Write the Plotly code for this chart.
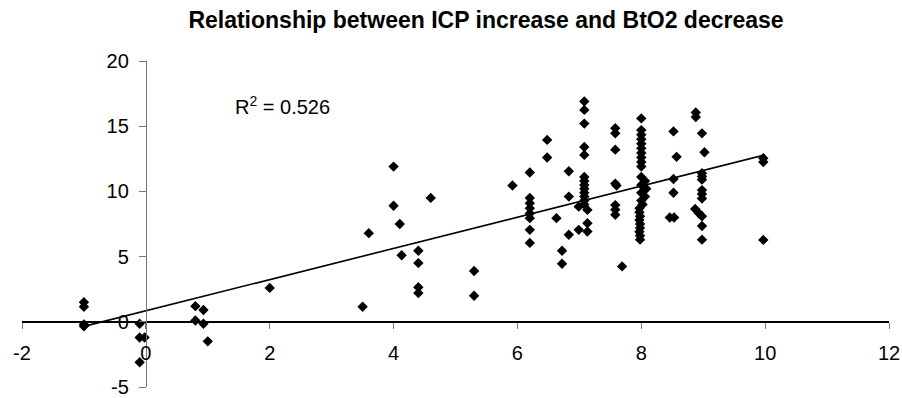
import plotly.graph_objects as go

# ICP increase (x) and BtO2 decrease (y)
icp_increase = [
    -1, -1, -1, -1,
    -0.1, -0.1, -0.02, -0.1,
    0.8, 0.93, 0.8, 0.93, 1.0,
    2.0,
    3.5, 3.6,
    4.0, 4.0, 4.1, 4.13, 4.4, 4.4, 4.4, 4.4,
    4.6,
    5.3, 5.3,
    5.92,
    6.2, 6.2, 6.2, 6.2, 6.2, 6.2, 6.2, 6.2,
    6.48, 6.48,
    6.63,
    6.72, 6.72,
    6.83, 6.83, 6.83,
    6.99, 6.99, 7.13, 7.13, 7.13,
    7.08, 7.08, 7.08, 7.08, 7.08, 7.08, 7.08, 7.08, 7.08, 7.08, 7.08, 7.08, 7.08,
    7.58, 7.58, 7.58, 7.58, 7.6, 7.58, 7.58, 7.58,
    7.69,
    8.0, 8.0, 8.0, 8.0, 8.0, 8.0, 8.0, 8.0, 8.0, 8.0,
    8.0, 8.06, 8.0, 8.08, 8.0, 8.06, 8.0, 8.02,
    7.97, 7.97, 7.98, 7.97, 7.98, 7.98, 7.97, 7.98, 7.98,
    8.52, 8.57, 8.52, 8.52, 8.46, 8.53,
    8.88, 8.88,
    8.98, 9.02, 8.98, 8.98, 8.98, 8.98, 8.98, 8.98, 8.87, 8.93, 8.98, 8.98, 8.98,
    9.97, 9.97, 9.97,
]
bto2_decrease = [
    1.5, 1.15, -0.2, -0.35,
    -0.15, -1.2, -1.2, -3.1,
    1.2, 0.9, 0.1, -0.15, -1.5,
    2.6,
    1.15, 6.8,
    11.9, 8.9, 7.5, 5.1, 5.45, 4.5, 2.65, 2.2,
    9.5,
    3.9, 2.0,
    10.45,
    11.45, 9.5, 9.1, 8.7, 8.3, 7.95, 7.05, 6.05,
    13.95, 12.6,
    7.95,
    5.45, 4.45,
    11.55, 9.6, 6.67,
    8.83, 7.05, 8.58, 7.56, 6.92,
    16.9, 16.25, 15.2, 13.4, 12.8, 11.1, 10.8, 10.5, 10.2, 9.9, 9.6, 9.3, 9.0,
    14.85, 14.45, 13.2, 10.6, 10.45, 8.95, 8.6, 8.2,
    4.25,
    15.6, 14.7, 14.35, 14.0, 13.65, 13.3, 12.95, 12.6, 12.25, 11.9,
    11.1, 10.8, 10.5, 10.2, 9.9, 9.6, 9.3, 9.0,
    8.7, 8.4, 8.1, 7.8, 7.5, 7.2, 6.9, 6.6, 6.3,
    14.6, 12.65, 10.95, 9.9, 8.0, 8.0,
    16.05, 15.7,
    14.45, 13.0, 11.4, 11.15, 10.9, 10.1, 9.8, 9.45, 8.65, 8.33, 8.1, 7.35, 6.3,
    12.55, 12.25, 6.28,
]

# Linear trend line end points
trend_x = [-1, 10]
trend_y = [-0.35, 12.8]

x_ticks = [-2, 0, 2, 4, 6, 8, 10, 12]
y_ticks = [-5, 0, 5, 10, 15, 20]

title_text = "<b>Relationship between ICP increase and BtO2 decrease</b>"
r2_text = "R<sup>2</sup> = 0.526"

FONT = "Arial, 'Liberation Sans', sans-serif"

fig = go.Figure()
fig.add_trace(go.Scatter(
    x=trend_x, y=trend_y, mode="lines",
    line=dict(color="black", width=1.6),
    showlegend=False, hoverinfo="skip",
))
fig.add_trace(go.Scatter(
    x=icp_increase, y=bto2_decrease, mode="markers",
    marker=dict(symbol="diamond", size=8, color="black", line=dict(width=0)),
    showlegend=False,
))

fig.add_annotation(
    x=1.41, y=16.6, xref="x", yref="y", text=r2_text, showarrow=False,
    xanchor="left", yanchor="middle", font=dict(family=FONT, size=20, color="black"),
)

fig.update_layout(
    width=902, height=398,
    margin=dict(l=22, r=13, t=61, b=11, pad=0, autoexpand=False),
    paper_bgcolor="white", plot_bgcolor="white",
    font=dict(family=FONT, size=20, color="black"),
    title=dict(text=title_text, x=486 / 902, xref="container", xanchor="center",
               y=1 - 19.5 / 398, yref="container", yanchor="middle",
               font=dict(family=FONT, size=23, color="black"), automargin=False),
    xaxis=dict(
        range=[-2, 12], tickvals=x_ticks, ticktext=[str(v) for v in x_ticks],
        anchor="free", position=0.2, automargin=False,
        showline=True, linecolor="black", linewidth=1.5,
        ticks="outside", ticklen=6, tickcolor="#777", tickwidth=1,
        showgrid=False, zeroline=False, ticklabelstandoff=7,
        tickfont=dict(size=20, color="black"),
    ),
    yaxis=dict(
        range=[-5, 20], tickvals=y_ticks, ticktext=[str(v) for v in y_ticks],
        anchor="free", position=2 / 14, automargin=False,
        showline=True, linecolor="#777", linewidth=1,
        ticks="outside", ticklen=7, tickcolor="#777", tickwidth=1,
        showgrid=False, zeroline=False, ticklabelstandoff=6,
        tickfont=dict(size=20, color="black"),
    ),
)

fig.write_html(
    "out.html",
    config={"displayModeBar": False},
    post_script="document.body.style.margin='0';document.body.style.overflow='hidden';",
)
